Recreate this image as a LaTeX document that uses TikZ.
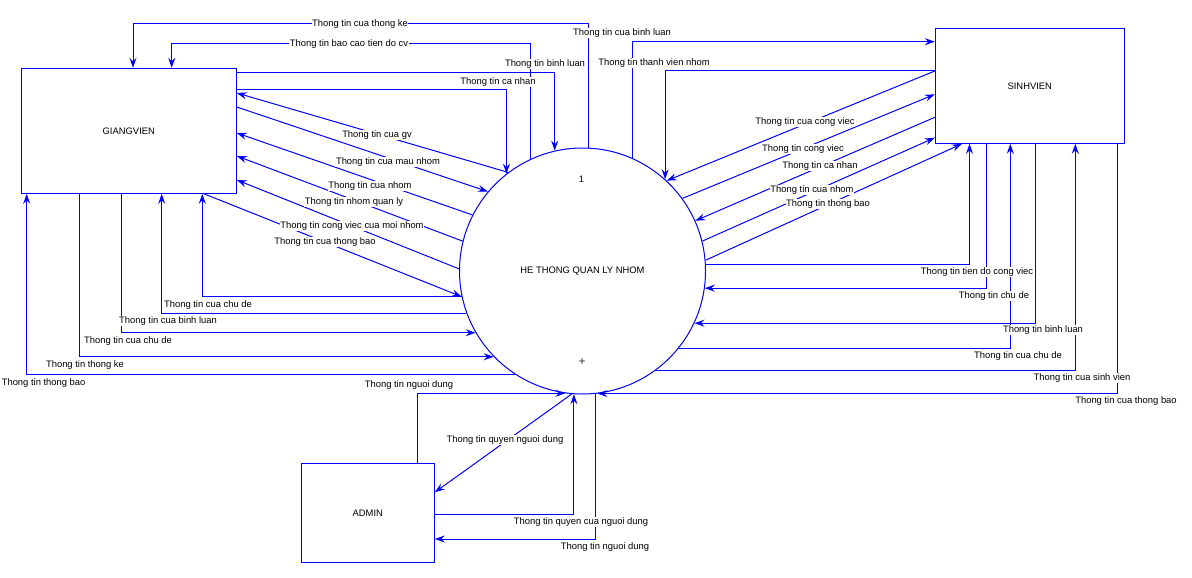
\documentclass[tikz,border=0pt]{standalone}
\usepackage{fontspec}
\setmainfont{Liberation Sans}
\usetikzlibrary{arrows.meta}
\definecolor{dfdblue}{RGB}{0,0,255}
\begin{document}
\begin{tikzpicture}[x=1pt,y=-1pt,
  conn/.style={draw=dfdblue, line width=1pt},
  arr/.style={conn,-{Stealth[length=10pt,width=7pt,inset=3.5pt]}},
  ent/.style={draw=dfdblue, line width=1pt, inner sep=0pt, font=\fontsize{9.4}{11}\selectfont},
  lbl/.style={fill=white, inner sep=0.6pt, font=\fontsize{9.4}{11}\selectfont, text height=6.8pt, text depth=1.8pt},
]
\useasboundingbox (0,0) rectangle (1192,578);

% entities and process
\node[ent, minimum width=215pt, minimum height=125pt] (gv) at (128.8,130.8) {GIANGVIEN};
\node[ent, minimum width=189pt, minimum height=115pt] (sv) at (1029.8,85.8) {SINHVIEN};
\node[ent, minimum width=133pt, minimum height=99pt] (ad) at (367.8,512.8) {ADMIN};
\node[ent, circle, minimum size=246pt] (c) at (582.5,271) {HE THONG QUAN LY NHOM};
\node[font=\fontsize{9.4}{11}\selectfont] (num) at (581.5,179) {1};
\node[font=\fontsize{12}{12}\selectfont, text=black!80] (plus) at (582,362) {+};

% connectors: top left
\draw[arr] (c.87) -- (c.87 |- 0,24) -| (gv.north -| 133,0);
\draw[arr] (c.115.8) -- (c.115.8 |- 0,44) -| (gv.north -| 171.7,0);
\draw[arr] (gv.east |- 0,73) -| (c.103.9);
\draw[arr] (gv.east |- 0,90) -| (c.128);
% top right
\draw[arr] (c.66.8) |- (sv.west |- 0,41.7);
\draw[arr] (sv.west |- 0,71) -| (c.48.5);
% left diagonals
\draw[arr] (c.127.7) -- (gv.east |- 0,93);
\draw[arr] (gv.east |- 0,107) -- (c.140.5);
\draw[arr] (c.153.5) -- (gv.east |- 0,133);
\draw[arr] (c.166.9) -- (gv.east |- 0,156);
\draw[arr] (c.179.1) -- (gv.east |- 0,180);
\draw[arr] (gv.south -| 204,0) -- (c.192.2);
% bottom left
\draw[arr] (c.192.2) -| (gv.south -| 202.3,0);
\draw[arr] (c.200) -| (gv.south -| 161.7,0);
\draw[arr] (gv.south -| 121.3,0) |- (c.210.3);
\draw[arr] (gv.south -| 79.3,0) |- (c.224.4);
\draw[arr] (c.237.7) -| (gv.south -| 26.7,0);
% admin
\draw[arr] (ad.north -| 417.3,0) |- (c.262.7);
\draw[arr] (c.265.1) -- (ad.east |- 0,492.3);
\draw[arr] (ad.east |- 0,514.3) -| (c.266.5);
\draw[arr] (c.276.8) |- (ad.east |- 0,539);
% right diagonals
\draw[arr] (sv.west |- 0,71) -- (c.47.5);
\draw[arr] (c.36.3) -- (sv.west |- 0,94.3);
\draw[arr] (sv.west |- 0,117.3) -- (c.24.4);
\draw[arr] (c.14.5) -- (sv.west |- 0,137.7);
\draw[arr] (c.5.1) -- (sv.south -| 962,0);
% bottom right
\draw[arr] (c.3.3) -| (sv.south -| 969.5,0);
\draw[arr] (sv.south -| 986.7,0) |- (c.352.1);
\draw[arr] (sv.south -| 1035.7,0) |- (c.335.5);
\draw[arr] (c.321.2) -| (sv.south -| 1010.3,0);
\draw[arr] (c.306.4) -| (sv.south -| 1075.3,0);
\draw[arr] (sv.south -| 1117.5,0) |- (c.277.3);

% labels
\node[lbl] (l1) at (360,24) {Thong tin cua thong ke};
\node[lbl] (l2) at (349,44) {Thong tin bao cao tien do cv};
\node[lbl] (l3) at (545,64) {Thong tin binh luan};
\node[lbl] (l4) at (498,82) {Thong tin ca nhan};
\node[lbl] (l5) at (622,33) {Thong tin cua binh luan};
\node[lbl] (l6) at (654,63) {Thong tin thanh vien nhom};
\node[lbl] (l7) at (377,135) {Thong tin cua gv};
\node[lbl] (l8) at (388,162) {Thong tin cua mau nhom};
\node[lbl] (l9) at (370,186) {Thong tin cua nhom};
\node[lbl] (l10) at (354,202) {Thong tin nhom quan ly};
\node[lbl] (l11) at (352,226) {Thong tin cong viec cua moi nhom};
\node[lbl] (l12) at (325,242) {Thong tin cua thong bao};
\node[lbl] (l13) at (208,305) {Thong tin cua chu de};
\node[lbl] (l14) at (168,321) {Thong tin cua binh luan};
\node[lbl] (l15) at (128,341) {Thong tin cua chu de};
\node[lbl] (l16) at (85,365) {Thong tin thong ke};
\node[lbl, anchor=west] (l17) at (1,383) {Thong tin thong bao};
\node[lbl] (l18) at (409,385) {Thong tin nguoi dung};
\node[lbl] (l19) at (505,440) {Thong tin quyen nguoi dung};
\node[lbl] (l20) at (581,522) {Thong tin quyen cua nguoi dung};
\node[lbl] (l21) at (605,547) {Thong tin nguoi dung};
\node[lbl] (l22) at (805,122) {Thong tin cua cong viec};
\node[lbl] (l23) at (803,149) {Thong tin cong viec};
\node[lbl] (l24) at (820,166) {Thong tin ca nhan};
\node[lbl] (l25) at (812,190) {Thong tin cua nhom};
\node[lbl] (l26) at (828,204) {Thong tin thong bao};
\node[lbl] (l27) at (977,272) {Thong tin tien do cong viec};
\node[lbl] (l28) at (994,296) {Thong tin chu de};
\node[lbl] (l29) at (1043,330) {Thong tin binh luan};
\node[lbl] (l30) at (1018,356) {Thong tin cua chu de};
\node[lbl] (l31) at (1082,378) {Thong tin cua sinh vien};
\node[lbl] (l32) at (1126,401) {Thong tin cua thong bao};
\end{tikzpicture}
\end{document}
